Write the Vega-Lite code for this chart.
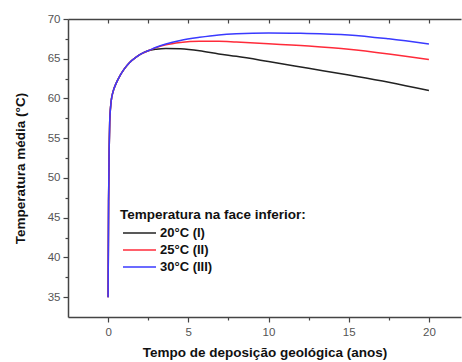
{
  "$schema": "https://vega.github.io/schema/vega-lite/v6.json",
  "autosize": {"type": "none"},
  "padding": {"left": 68, "top": 19, "right": 1, "bottom": 45},
  "width": 393,
  "height": 298,
  "background": "white",
  "config": {
    "view": {"stroke": null},
    "font": "Liberation Sans",
    "axis": {"domainColor": "#444", "domainWidth": 1.5, "tickColor": "#444", "tickWidth": 1.2, "labelColor": "#555", "labelFontSize": 11.5, "labelFont": "Liberation Sans", "titleFont": "Liberation Sans", "titleFontWeight": "bold", "titleFontSize": 13.5, "titleColor": "#111", "grid": false}
  },
  "data": {"values": [
    {"t":0,"T":35,"s":"20°C (I)"},{"t":0.03,"T":47,"s":"20°C (I)"},{"t":0.07,"T":54,"s":"20°C (I)"},{"t":0.1,"T":57,"s":"20°C (I)"},{"t":0.15,"T":58.8,"s":"20°C (I)"},{"t":0.2,"T":59.8,"s":"20°C (I)"},{"t":0.3,"T":60.8,"s":"20°C (I)"},{"t":0.5,"T":61.9,"s":"20°C (I)"},{"t":0.75,"T":62.9,"s":"20°C (I)"},{"t":1,"T":63.7,"s":"20°C (I)"},{"t":1.33,"T":64.5,"s":"20°C (I)"},{"t":1.75,"T":65.2,"s":"20°C (I)"},{"t":2.15,"T":65.7,"s":"20°C (I)"},
    {"t":2.5,"T":66.0,"s":"20°C (I)"},{"t":3,"T":66.2,"s":"20°C (I)"},{"t":3.6,"T":66.3,"s":"20°C (I)"},{"t":4.5,"T":66.25,"s":"20°C (I)"},{"t":5.7,"T":66.0,"s":"20°C (I)"},{"t":6.9,"T":65.6,"s":"20°C (I)"},{"t":8,"T":65.3,"s":"20°C (I)"},{"t":10,"T":64.65,"s":"20°C (I)"},{"t":12.5,"T":63.8,"s":"20°C (I)"},{"t":15,"T":62.95,"s":"20°C (I)"},{"t":17.5,"T":62.05,"s":"20°C (I)"},{"t":20,"T":61.0,"s":"20°C (I)"},
    {"t":0,"T":35,"s":"25°C (II)"},{"t":0.03,"T":47,"s":"25°C (II)"},{"t":0.07,"T":54,"s":"25°C (II)"},{"t":0.1,"T":57,"s":"25°C (II)"},{"t":0.15,"T":58.8,"s":"25°C (II)"},{"t":0.2,"T":59.8,"s":"25°C (II)"},{"t":0.3,"T":60.8,"s":"25°C (II)"},{"t":0.5,"T":61.9,"s":"25°C (II)"},{"t":0.75,"T":62.9,"s":"25°C (II)"},{"t":1,"T":63.7,"s":"25°C (II)"},{"t":1.33,"T":64.5,"s":"25°C (II)"},{"t":1.75,"T":65.2,"s":"25°C (II)"},{"t":2.15,"T":65.7,"s":"25°C (II)"},
    {"t":2.5,"T":66.0,"s":"25°C (II)"},{"t":3,"T":66.4,"s":"25°C (II)"},{"t":3.6,"T":66.75,"s":"25°C (II)"},{"t":4.5,"T":67.05,"s":"25°C (II)"},{"t":5.7,"T":67.2,"s":"25°C (II)"},{"t":6.9,"T":67.2,"s":"25°C (II)"},{"t":8,"T":67.1,"s":"25°C (II)"},{"t":10,"T":66.9,"s":"25°C (II)"},{"t":12.5,"T":66.6,"s":"25°C (II)"},{"t":15,"T":66.2,"s":"25°C (II)"},{"t":17.5,"T":65.6,"s":"25°C (II)"},{"t":20,"T":64.9,"s":"25°C (II)"},
    {"t":0,"T":35,"s":"30°C (III)"},{"t":0.03,"T":47,"s":"30°C (III)"},{"t":0.07,"T":54,"s":"30°C (III)"},{"t":0.1,"T":57,"s":"30°C (III)"},{"t":0.15,"T":58.8,"s":"30°C (III)"},{"t":0.2,"T":59.8,"s":"30°C (III)"},{"t":0.3,"T":60.8,"s":"30°C (III)"},{"t":0.5,"T":61.9,"s":"30°C (III)"},{"t":0.75,"T":62.9,"s":"30°C (III)"},{"t":1,"T":63.7,"s":"30°C (III)"},{"t":1.33,"T":64.5,"s":"30°C (III)"},{"t":1.75,"T":65.2,"s":"30°C (III)"},{"t":2.15,"T":65.7,"s":"30°C (III)"},
    {"t":2.5,"T":66.0,"s":"30°C (III)"},{"t":3,"T":66.45,"s":"30°C (III)"},{"t":3.6,"T":66.85,"s":"30°C (III)"},{"t":4.5,"T":67.3,"s":"30°C (III)"},{"t":5.7,"T":67.7,"s":"30°C (III)"},{"t":6.9,"T":68.0,"s":"30°C (III)"},{"t":8,"T":68.15,"s":"30°C (III)"},{"t":10,"T":68.25,"s":"30°C (III)"},{"t":12,"T":68.2,"s":"30°C (III)"},{"t":15,"T":68.0,"s":"30°C (III)"},{"t":17.5,"T":67.5,"s":"30°C (III)"},{"t":20,"T":66.85,"s":"30°C (III)"}
  ]},
  "resolve": {"axis": {"x": "independent", "y": "independent"}},
  "layer": [
    {
      "mark": {"type": "line", "opacity": 0},
      "encoding": {
        "x": {"field": "t", "type": "quantitative", "scale": {"domain": [-2.5, 22], "nice": false, "zero": false},
          "axis": {"orient": "top", "values": [0, 2.5, 5, 7.5, 10, 12.5, 15, 17.5, 20], "labels": false, "title": null, "tickSize": -4}},
        "y": {"field": "T", "type": "quantitative", "scale": {"domain": [32.5, 70], "nice": false, "zero": false},
          "axis": {"orient": "left", "values": [37.5, 42.5, 47.5, 52.5, 57.5, 62.5, 67.5], "labels": false, "title": null, "tickSize": 3, "domain": false}}
      }
    },
    {
      "mark": {"type": "line", "opacity": 0},
      "encoding": {
        "x": {"field": "t", "type": "quantitative",
          "axis": {"orient": "bottom", "values": [2.5, 7.5, 12.5, 17.5], "labels": false, "title": null, "tickSize": 3, "domain": false}},
        "y": {"field": "T", "type": "quantitative", "axis": null}
      }
    },
    {
      "mark": {"type": "line", "strokeWidth": 1.5, "interpolate": "monotone", "clip": true},
      "encoding": {
        "x": {"field": "t", "type": "quantitative",
          "axis": {"orient": "bottom", "values": [0, 5, 10, 15, 20], "title": "Tempo de deposição geológica (anos)", "tickSize": 5, "labelPadding": 4, "titlePadding": 8}},
        "y": {"field": "T", "type": "quantitative",
          "axis": {"orient": "left", "values": [35, 40, 45, 50, 55, 60, 65, 70], "title": "Temperatura média (°C)", "tickSize": 5, "labelPadding": 3, "titlePadding": 20}},
        "color": {"field": "s", "type": "nominal",
          "scale": {"domain": ["20°C (I)", "25°C (II)", "30°C (III)"], "range": ["#222222", "#ff2b3a", "#3a3aff"]},
          "legend": {"orient": "none", "legendX": 52, "legendY": 189, "title": "Temperatura na face inferior:", "titleLimit": 400, "titleFontSize": 13.5, "titleFontWeight": "bold", "titleColor": "#111", "titlePadding": 5,
            "labelFontSize": 13, "labelFontWeight": "bold", "labelColor": "#111", "labelLimit": 200, "symbolType": "M-3,0H3", "symbolSize": 121, "symbolStrokeWidth": 1.5, "symbolOffset": 13, "labelOffset": 14, "rowPadding": 3, "padding": 0}}
      }
    }
  ]
}
